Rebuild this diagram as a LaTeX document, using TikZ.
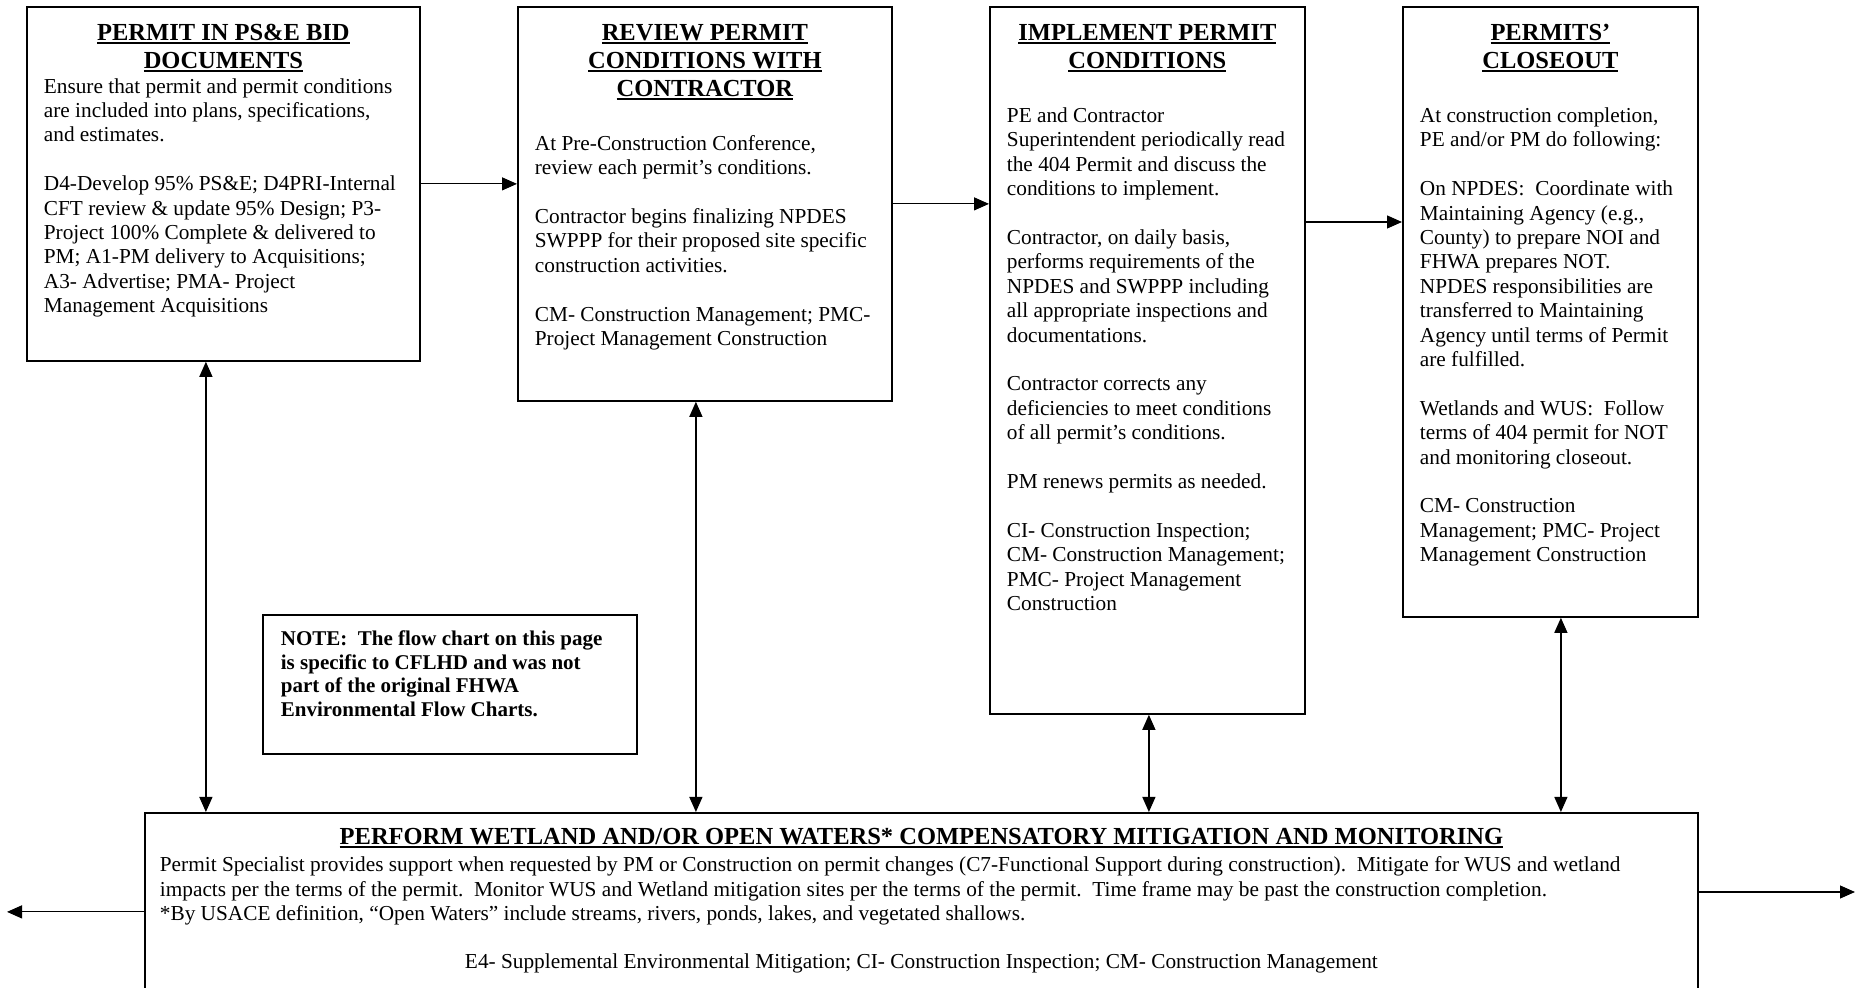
\documentclass[tikz,border=0pt]{standalone}
\usepackage{fontspec}
\setmainfont{Liberation Serif}
\usetikzlibrary{arrows.meta,positioning}
\newcommand{\uln}[1]{\leavevmode\setbox0\hbox{#1}\rlap{\rule[-1.7pt]{\wd0}{0.9pt}}\box0}
\newcommand{\headfont}{\fontsize{12.25}{13.9}\selectfont\bfseries}
\newcommand{\bodyfont}{\normalfont\fontsize{10.65}{12.2}\selectfont}

\begin{document}
\begin{tikzpicture}[x=0.5pt, y=-0.5pt,
  box/.style={draw, line width=0.9pt, anchor=north west, inner xsep=8.5pt,
              inner ysep=0pt, font=\bodyfont},
  arr/.style={-{Triangle[length=7.5pt,width=6.5pt]}, line width=0.6pt},
  dbl/.style={{Triangle[length=7.5pt,width=6.5pt]}-{Triangle[length=7.5pt,width=6.5pt]},
              line width=0.6pt}]
\useasboundingbox (0,0) rectangle (1860,988);
\clip (0,0) rectangle (1860,988);

% four steps along the top
\node[box] (bid) at (26,6) {\parbox[t][177pt][t]{179.5pt}{\centering\headfont
  \rule{0pt}{17pt}\uln{PERMIT IN PS\&E BID}\\ \uln{DOCUMENTS}\par
  \raggedright\bodyfont
  Ensure that permit and permit conditions\\
  are included into plans, specifications,\\
  and estimates.\\[\baselineskip]
  D4-Develop 95\% PS\&E; D4PRI-Internal\\
  CFT review \& update 95\% Design; P3-\\
  Project 100\% Complete \& delivered to\\
  PM; A1-PM delivery to Acquisitions;\\
  A3- Advertise; PMA- Project\\
  Management Acquisitions}};
\node[box] (review) at (517,6) {\parbox[t][197pt][t]{170pt}{\centering\headfont
  \rule{0pt}{17pt}\uln{REVIEW PERMIT}\\ \uln{CONDITIONS WITH}\\ \uln{CONTRACTOR}\par
  \vspace{14.7pt}\raggedright\bodyfont
  At Pre-Construction Conference,\\
  review each permit's conditions.\\[\baselineskip]
  Contractor begins finalizing NPDES\\
  SWPPP for their proposed site specific\\
  construction activities.\\[\baselineskip]
  CM- Construction Management; PMC-\\
  Project Management Construction}};
\node[box] (impl) at (989,6) {\parbox[t][353.5pt][t]{140.5pt}{\centering\headfont
  \rule{0pt}{17pt}\uln{IMPLEMENT PERMIT}\\ \uln{CONDITIONS}\par
  \vspace{14.7pt}\raggedright\bodyfont
  PE and Contractor\\
  Superintendent periodically read\\
  the 404 Permit and discuss the\\
  conditions to implement.\\[\baselineskip]
  Contractor, on daily basis,\\
  performs requirements of the\\
  NPDES and SWPPP including\\
  all appropriate inspections and\\
  documentations.\\[\baselineskip]
  Contractor corrects any\\
  deficiencies to meet conditions\\
  of all permit's conditions.\\[\baselineskip]
  PM renews permits as needed.\\[\baselineskip]
  CI- Construction Inspection;\\
  CM- Construction Management;\\
  PMC- Project Management\\
  Construction}};
\node[box] (close) at (1402,6) {\parbox[t][305pt][t]{130.5pt}{\centering\headfont
  \rule{0pt}{17pt}\uln{PERMITS'}\\ \uln{CLOSEOUT}\par
  \vspace{14.7pt}\raggedright\bodyfont
  At construction completion,\\
  PE and/or PM do following:\\[\baselineskip]
  On NPDES:\ \ Coordinate with\\
  Maintaining Agency (e.g.,\\
  County) to prepare NOI and\\
  FHWA prepares NOT.\\
  NPDES responsibilities are\\
  transferred to Maintaining\\
  Agency until terms of Permit\\
  are fulfilled.\\[\baselineskip]
  Wetlands and WUS:\ \ Follow\\
  terms of 404 permit for NOT\\
  and monitoring closeout.\\[\baselineskip]
  CM- Construction\\
  Management; PMC- Project\\
  Management Construction}};

% note and mitigation box
\node[box, inner xsep=9pt] (note) at (262,614) {\parbox[t][69.5pt][t]{169pt}{%
  \fontsize{10.5}{11.7}\selectfont\bfseries\raggedright
  \rule{0pt}{15.5pt}NOTE:\ \ The flow chart on this page\\
  is specific to CFLHD and was not\\
  part of the original FHWA\\
  Environmental Flow Charts.}};
\node[box, inner xsep=7.5pt] (mit) at (144,812) {\parbox[t][99pt][t]{761.5pt}{\centering\headfont
  \rule{0pt}{16pt}\uln{PERFORM WETLAND AND/OR OPEN WATERS* COMPENSATORY MITIGATION AND MONITORING}\par
  \vspace{1.3pt}\raggedright\normalfont\fontsize{10.65}{12.25}\selectfont
  Permit Specialist provides support when requested by PM or Construction on permit changes (C7-Functional Support during construction).\ \ Mitigate for WUS and wetland\\
  impacts per the terms of the permit.\ \ Monitor WUS and Wetland mitigation sites per the terms of the permit.\ \ Time frame may be past the construction completion.\\{}*By USACE definition, ``Open Waters'' include streams, rivers, ponds, lakes, and vegetated shallows.\par
  \vspace{11.3pt}\centering
  E4- Supplemental Environmental Mitigation; CI- Construction Inspection; CM- Construction Management\par}};

% flow between steps
\draw[arr] (bid.east) -- (bid.east -| review.west);
\draw[arr] (review.east) -- (review.east -| impl.west);
\draw[arr] ([yshift=-108pt]impl.north east) -- ([yshift=-108pt]impl.north east -| close.west);
\draw[dbl] ([xshift=-8.75pt]bid.south) -- ([xshift=-8.75pt]bid.south |- mit.north);
\draw[dbl] ([xshift=-4.5pt]review.south) -- ([xshift=-4.5pt]review.south |- mit.north);
\draw[dbl] ([xshift=0.75pt]impl.south) -- ([xshift=0.75pt]impl.south |- mit.north);
\draw[dbl] ([xshift=5.25pt]close.south) -- ([xshift=5.25pt]close.south |- mit.north);
\coordinate (out l) at (7,911);
\coordinate (out r) at (1855,892);
\draw[arr] (mit.west) -- (mit.west -| out l);
\draw[arr] (mit.east |- out r) -- (out r);
\end{tikzpicture}
\end{document}
